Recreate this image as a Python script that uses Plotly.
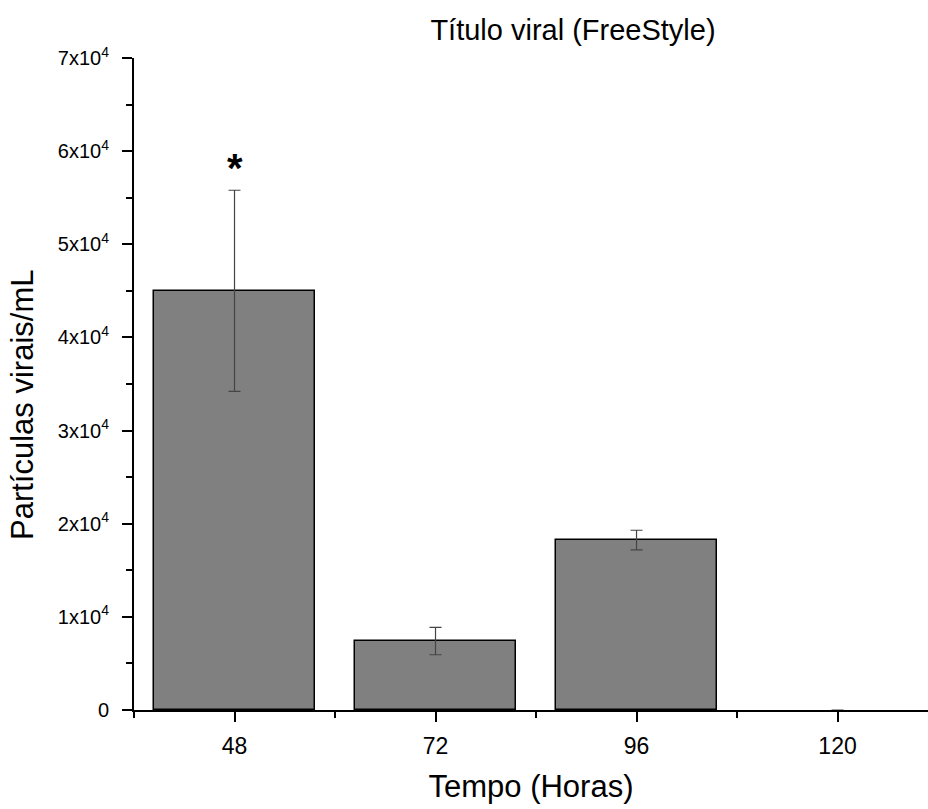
import plotly.graph_objects as go

# Viral titre over time (FreeStyle cells)
horas = [48, 72, 96, 120]
particulas = [45000, 7400, 18250, 0]
erro = [10800, 1470, 1050, None]

y_ticks = [0, 10000, 20000, 30000, 40000, 50000, 60000, 70000]
y_labels = ["0"] + [f"{i}x10<sup>4</sup>" for i in range(1, 8)]
x_ticks = [48, 72, 96, 120]
x_labels = ["48", "72", "96", "120"]

outline = [1.5 if v > 0 else 0 for v in particulas]

fig = go.Figure()
fig.add_trace(go.Bar(
    x=horas,
    y=particulas,
    width=19.2,
    marker=dict(color="#808080", line=dict(color="black", width=outline)),
    error_y=dict(type="data", array=erro, visible=True,
                 color="#444444", thickness=1.2, width=6),
    showlegend=False,
))

# significance marker above the 48 h bar
fig.add_annotation(x=48, y=particulas[0] + erro[0], yshift=-2,
                   text="<b>*</b>", showarrow=False,
                   font=dict(size=40, color="black"), yanchor="bottom")

# y-axis title, placed slightly below the plot's vertical centre
fig.add_annotation(xref="paper", yref="paper", x=0, xshift=-111,
                   y=(710 - 405) / 652, text="Partículas virais/mL",
                   textangle=-90, showarrow=False, xanchor="center",
                   yanchor="middle", font=dict(size=31, color="black"))

font_family = "Liberation Sans, Arial, sans-serif"
fig.update_layout(
    width=928, height=809,
    margin=dict(l=134, r=0, t=58, b=99),
    paper_bgcolor="white", plot_bgcolor="white",
    font=dict(family=font_family, color="black"),
    title=dict(text="Título viral (FreeStyle)", x=573 / 928, xref="container",
               xanchor="center", y=1 - 30 / 809, yanchor="middle",
               font=dict(size=29)),
    bargap=0,
)
fig.update_xaxes(
    range=[36, 130.8],
    tickmode="array", tickvals=x_ticks, ticktext=x_labels,
    ticks="outside", ticklen=10, tickwidth=2, tickcolor="black",
    minor=dict(tickmode="array", tickvals=[36, 60, 84, 108],
               ticks="outside", ticklen=6, tickwidth=2, tickcolor="black"),
    showline=True, linecolor="black", linewidth=2,
    showgrid=False, zeroline=False,
    tickfont=dict(size=23),
    ticklabelstandoff=4,
    title=dict(text="Tempo (Horas)", font=dict(size=31), standoff=18),
)
fig.update_yaxes(
    range=[0, 70000],
    tickmode="array", tickvals=y_ticks, ticktext=y_labels,
    ticks="outside", ticklen=10, tickwidth=2, tickcolor="black",
    minor=dict(tickmode="linear", tick0=5000, dtick=10000,
               ticks="outside", ticklen=6, tickwidth=2, tickcolor="black"),
    showline=True, linecolor="black", linewidth=2,
    showgrid=False, zeroline=False,
    tickfont=dict(size=20),
    ticklabelstandoff=9,
)

fig.write_html("out.html")
